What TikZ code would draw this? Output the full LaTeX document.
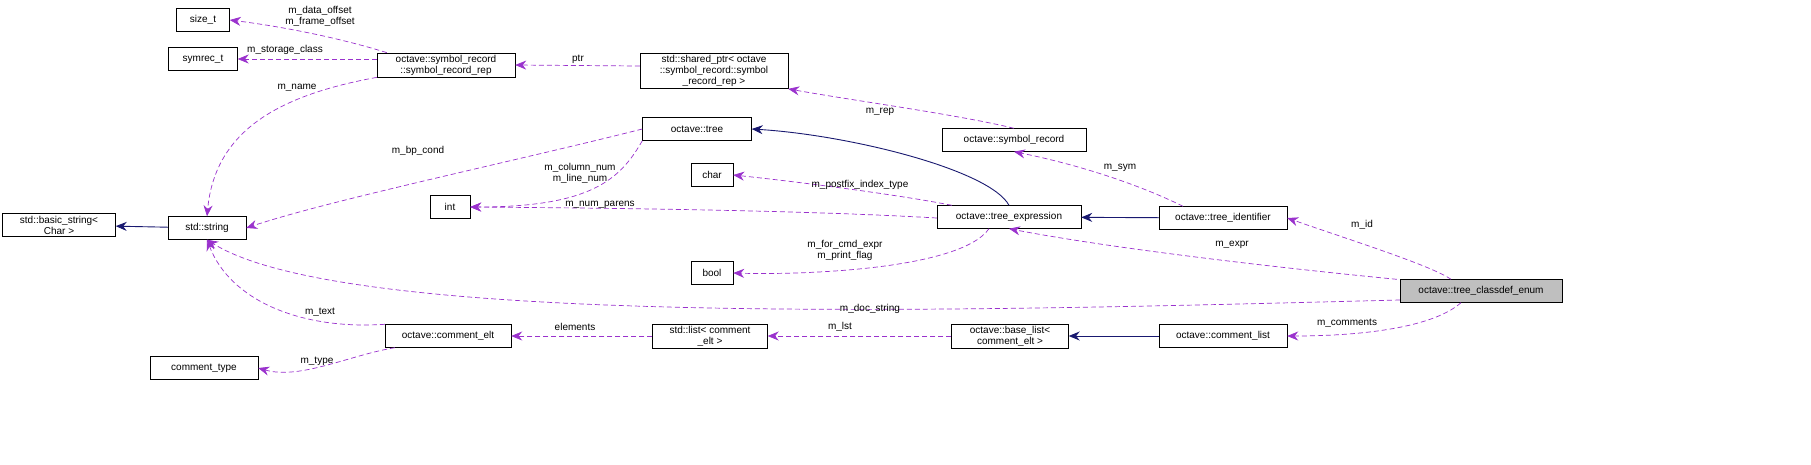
\documentclass[tikz,border=0pt]{standalone}
\usepackage{fontspec}
\setmainfont{Liberation Sans}
\usetikzlibrary{arrows.meta}
\definecolor{mp}{RGB}{154,50,205}
\definecolor{nv}{RGB}{25,25,112}
\begin{document}
\begin{tikzpicture}[x=1pt,y=-1pt,
 box/.style={draw,fill=white,inner sep=2pt,minimum height=23pt,font=\fontsize{10}{11}\selectfont,align=center},
 mem/.style={color=mp,dash pattern=on 5pt off 3pt,-{Stealth[length=11pt,width=9pt]},line width=0.7pt},
 inh/.style={color=nv,-{Stealth[length=11pt,width=9pt]},line width=0.9pt},
 lab/.style={font=\fontsize{10}{11}\selectfont,align=center,inner sep=1pt}]
\useasboundingbox (0,0) rectangle (1811,464);
\node[box,minimum width=53pt] (size) at (203,20) {size\_t};
\node[box,minimum width=69pt] (symrec) at (203,59) {symrec\_t};
\node[box,minimum width=138pt] (rep) at (446,65) {octave::symbol\_record\\::symbol\_record\_rep};
\node[box,minimum width=148pt] (sp) at (714,71) {std::shared\_ptr\textless{} octave\\::symbol\_record::symbol\\\_record\_rep \textgreater};
\node[box,minimum width=109pt] (tree) at (697,129) {octave::tree};
\node[box,minimum width=144pt] (symr) at (1014,140) {octave::symbol\_record};
\node[box,minimum width=42pt] (char) at (712,175) {char};
\node[box,minimum width=40pt] (int) at (450,207) {int};
\node[box,minimum width=144pt] (texpr) at (1009,217) {octave::tree\_expression};
\node[box,minimum width=128pt] (tid) at (1223,218) {octave::tree\_identifier};
\node[box,minimum width=113pt] (bs) at (59,225) {std::basic\_string\textless\\Char \textgreater};
\node[box,minimum width=78pt] (str) at (207,228) {std::string};
\node[box,minimum width=42pt] (bool) at (712,273) {bool};
\node[box,minimum width=162pt,fill={rgb,255:red,191;green,191;blue,191}] (enum) at (1481,291) {octave::tree\_classdef\_enum};
\node[box,minimum width=126pt] (celt) at (448,336) {octave::comment\_elt};
\node[box,minimum width=115pt] (list) at (710,336) {std::list\textless{} comment\\\_elt \textgreater};
\node[box,minimum width=117pt] (bl) at (1010,336) {octave::base\_list\textless\\comment\_elt \textgreater};
\node[box,minimum width=128pt] (cl) at (1223,336) {octave::comment\_list};
\node[box,minimum width=108pt] (ctype) at (204,368) {comment\_type};

\draw[inh] (str) -- (bs);
\draw[inh] (texpr.north) .. controls (990,170) and (850,135) .. (tree.east);
\draw[inh] (tid) -- (texpr);
\draw[inh] (cl) -- (bl);

\draw[mem] (rep.north west) ++(10,0) .. controls (330,35) and (270,25) .. (size.east);
\node[lab] at (320,16) {m\_data\_offset\\m\_frame\_offset};
\draw[mem] (rep.west) ++(0,-6) -- (symrec.east);
\node[lab] at (285,50) {m\_storage\_class};
\draw[mem] (rep.south west) .. controls (280,95) and (215,130) .. (str.north);
\node[lab] at (297,88) {m\_name};
\draw[mem] (sp.west) ++(0,-5) -- (rep.east);
\node[lab] at (578,59) {ptr};
\draw[mem] (symr.north) .. controls (960,115) and (850,100) .. (sp.south east);
\node[lab] at (880,112) {m\_rep};
\draw[mem] (tree.west) .. controls (520,160) and (330,200) .. (str.east);
\node[lab] at (418,151) {m\_bp\_cond};
\draw[mem] (tree.south west) .. controls (620,180) and (590,207) .. (int.east);
\node[lab] at (580,173) {m\_column\_num\\m\_line\_num};
\draw[mem] (texpr.north west) ++(15,0) .. controls (900,195) and (800,182) .. (char.east);
\node[lab] at (860,185) {m\_postfix\_index\_type};
\draw[mem] (texpr.west) ++(0,1) .. controls (800,210) and (600,208) .. (int.east);
\node[lab] at (600,205) {m\_num\_parens};
\draw[mem] (texpr.south) ++(-20,0) .. controls (960,270) and (800,275) .. (bool.east);
\node[lab] at (845,250) {m\_for\_cmd\_expr\\m\_print\_flag};
\draw[mem] (enum.north west) ++(-3,0) .. controls (1300,270) and (1120,250) .. (texpr.south);
\node[lab] at (1232,245) {m\_expr};
\draw[mem] (enum.north) ++(-30,0) .. controls (1430,265) and (1350,240) .. (tid.east);
\node[lab] at (1362,225) {m\_id};
\draw[mem] (tid.north) ++(-40,0) .. controls (1140,185) and (1080,165) .. (symr.south);
\node[lab] at (1120,168) {m\_sym};
\draw[mem] (enum.west) ++(0,9) .. controls (1000,310) and (350,330) .. (str.south);
\node[lab] at (870,309) {m\_doc\_string};
\draw[mem] (enum.south) ++(-20,0) .. controls (1430,330) and (1350,336) .. (cl.east);
\node[lab] at (1347,323) {m\_comments};
\draw[mem] (celt.north west) .. controls (300,330) and (230,300) .. (str.south);
\node[lab] at (320,312) {m\_text};
\draw[mem] (celt.south west) ++(10,0) .. controls (350,355) and (300,380) .. (ctype.east);
\node[lab] at (317,361) {m\_type};
\draw[mem] (list) -- (celt);
\node[lab] at (575,327) {elements};
\draw[mem] (bl) -- (list);
\node[lab] at (840,327) {m\_lst};
\end{tikzpicture}
\end{document}
